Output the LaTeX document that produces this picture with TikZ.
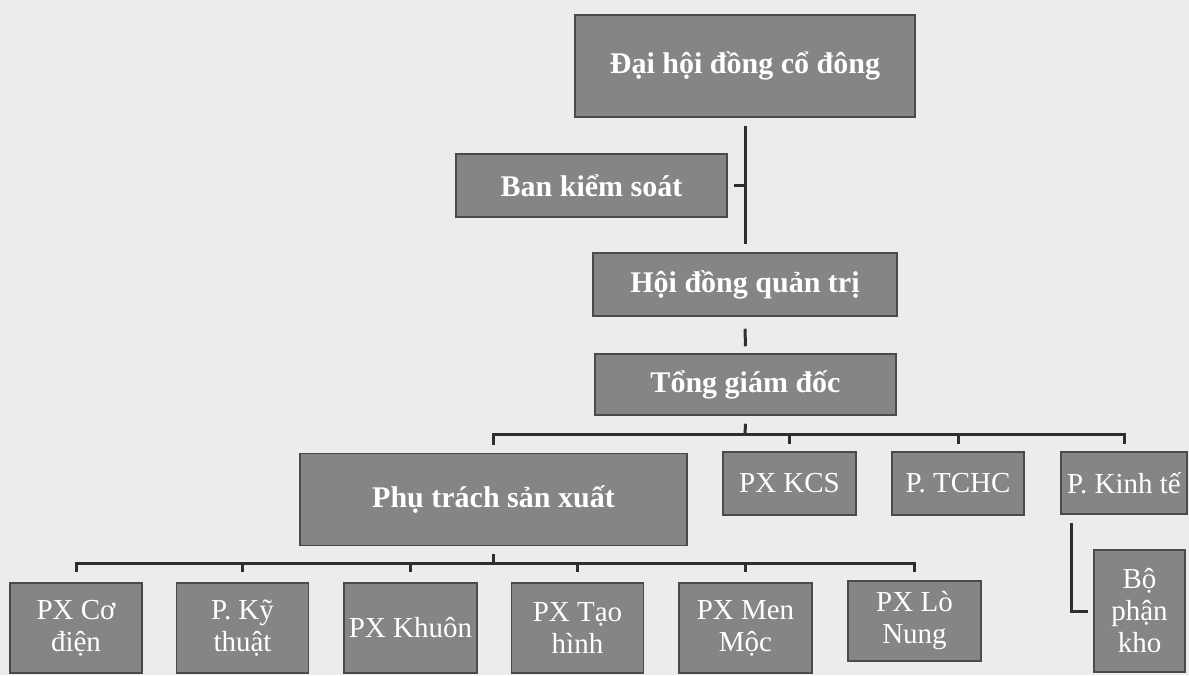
\documentclass[tikz,border=0pt]{standalone}
\usepackage{fontspec}
\setmainfont{Liberation Serif}
\definecolor{paper}{HTML}{ECECEC}
\definecolor{boxgray}{HTML}{858585}
\definecolor{boxline}{HTML}{4A4A4A}
\definecolor{linkgray}{HTML}{2E2E2E}
\tikzset{
  unit/.style={draw=boxline, fill=boxgray, line width=1.5pt, text=white,
    inner sep=0pt, align=center, font=\fontsize{29}{32}\selectfont},
  head/.style={unit, font=\fontsize{30}{32}\selectfont\bfseries},
  link/.style={draw=linkgray, line width=3pt},
}
\begin{document}
\begin{tikzpicture}[x=1pt, y=-1pt]
    % Page
    \useasboundingbox (0,0) rectangle (1189,675);
    \fill[paper] (0,0) rectangle (1189,675);

    % Top of the chart
    \node[head, minimum width=340pt, minimum height=102pt] (dhcd) at (745,66) {Đại hội đồng cổ đông};
    \node[head, minimum width=271pt, minimum height=63pt] (bks) at (591.5,185.5) {Ban kiểm soát};
    \node[head, minimum width=304pt, minimum height=63pt] (hdqt) at (745,284.5) {Hội đồng quản trị};
    \node[head, minimum width=301pt, minimum height=61pt] (tgd) at (745.5,384.5) {Tổng giám đốc};

    % Second level
    \node[head, minimum width=387pt, minimum height=92pt] (ptsx) at (493.5,499.5) {Phụ trách sản xuất};
    \node[unit, minimum width=133pt, minimum height=63pt] (kcs) at (789.5,483.5) {PX KCS};
    \node[unit, minimum width=132pt, minimum height=63pt] (tchc) at (958,483.5) {P. TCHC};
    \node[unit, minimum width=126pt, minimum height=62pt] (pkt) at (1124,483) {P. Kinh tế};
    \node[unit, minimum width=91pt, minimum height=122pt] (kho) at (1139.5,611) {Bộ\\phận\\kho};

    % Workshops
    \node[unit, minimum width=132pt, minimum height=90pt] (cd) at (76,628) {PX Cơ\\điện};
    \node[unit, minimum width=132pt, minimum height=90pt] (kyt) at (242.5,628) {P. Kỹ\\thuật};
    \node[unit, minimum width=133pt, minimum height=90pt] (khuon) at (410.5,628) {PX Khuôn};
    \node[unit, minimum width=132pt, minimum height=90pt] (taohinh) at (577.5,628) {PX Tạo\\hình};
    \node[unit, minimum width=133pt, minimum height=90pt] (menmoc) at (745.5,628) {PX Men\\Mộc};
    \node[unit, minimum width=133pt, minimum height=80pt] (lonung) at (914.5,621) {PX Lò\\Nung};

    % Links above the director
    \draw[link] ([yshift=-8pt]dhcd.south) -- ([yshift=8pt]hdqt.north);
    \draw[link] ([xshift=6pt]bks.east) -- (bks.east -| dhcd.south);
    \draw[link] ([yshift=-12pt]hdqt.south) -- ([yshift=7pt]tgd.north);

    % Bus under the director
    \coordinate (bus1) at (745,434);
    \draw[link] ([yshift=-8pt]tgd.south) -- (bus1);
    \draw[link] ([yshift=8pt]ptsx.north) |- (bus1) -| ([yshift=7pt]pkt.north);
    \draw[link] (kcs.north |- bus1) -- ([yshift=7pt]kcs.north);
    \draw[link] (tchc.north |- bus1) -- ([yshift=7pt]tchc.north);
    \draw[link] ([xshift=-53pt,yshift=-8pt]pkt.south) |- ([xshift=-5pt]kho.west);

    % Bus under production
    \coordinate (bus2) at (493.5,563);
    \draw[link] ([yshift=-8pt]ptsx.south) -- (bus2);
    \draw[link] ([yshift=10pt]cd.north) |- (bus2) -| ([yshift=8pt]lonung.north);
    \draw[link] (kyt.north |- bus2) -- ([yshift=10pt]kyt.north);
    \draw[link] (khuon.north |- bus2) -- ([yshift=10pt]khuon.north);
    \draw[link] (taohinh.north |- bus2) -- ([yshift=10pt]taohinh.north);
    \draw[link] (menmoc.north |- bus2) -- ([yshift=10pt]menmoc.north);
\end{tikzpicture}
\end{document}
